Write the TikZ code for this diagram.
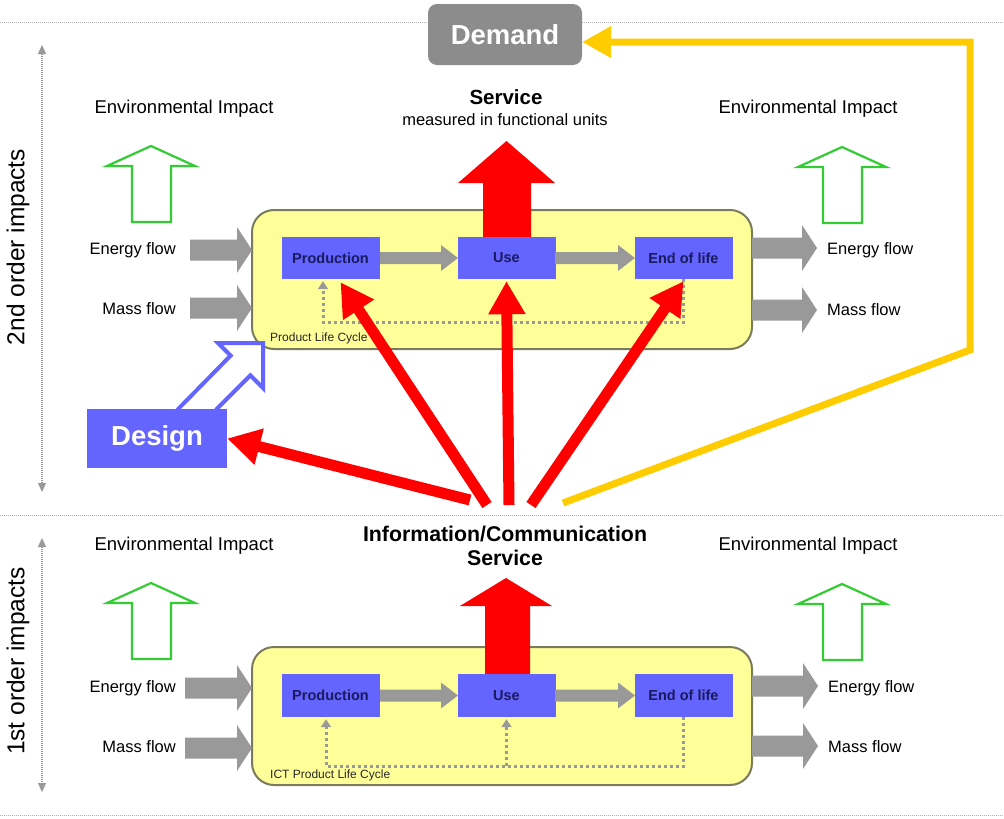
\documentclass[tikz,border=0pt]{standalone}
\usepackage{fontspec}
\setmainfont{Liberation Sans}
\usetikzlibrary{arrows.meta}
\definecolor{boxblue}{HTML}{6464FF}
\definecolor{navy}{HTML}{1A1A5E}
\definecolor{lcyellow}{HTML}{FFFF99}
\definecolor{lcborder}{HTML}{7A7A5C}
\definecolor{flowgray}{HTML}{999999}
\definecolor{impgreen}{HTML}{33CC33}
\definecolor{fbyellow}{HTML}{FFCC00}
\definecolor{demgray}{HTML}{8C8C8C}
\definecolor{sepgray}{HTML}{B0B0B0}
\newcommand\fsz[1]{\fontsize{#1}{#1}\selectfont}
\newcommand\flowarrow[3]{\fill[flowgray] (#1,#3-10.5) -- (#2-15,#3-10.5) -- (#2-15,#3-23) -- (#2,#3) -- (#2-15,#3+23) -- (#2-15,#3+10.5) -- (#1,#3+10.5) -- cycle;}
\newcommand\stageflow[3]{\fill[flowgray] (#1,#3-6) -- (#2-17,#3-6) -- (#2-17,#3-13) -- (#2,#3) -- (#2-17,#3+13) -- (#2-17,#3+6) -- (#1,#3+6) -- cycle;}
\newcommand\impactarrow[2]{\draw[impgreen, line width=2.2pt, fill=white, line join=miter] (#1,#2) -- (#1+44,#2+20) -- (#1+20,#2+20) -- (#1+20,#2+76) -- (#1-19,#2+76) -- (#1-19,#2+20) -- (#1-44,#2+20) -- cycle;}
\begin{document}
\begin{tikzpicture}[x=1pt,y=-1pt,
  sepline/.style={draw=sepgray, line width=1pt, dash pattern=on 1pt off 1pt},
  lcbox/.style={fill=lcyellow, draw=lcborder, line width=2pt, rounded corners=22pt, minimum width=500pt, inner sep=0pt},
  stagebox/.style={fill=boxblue, draw=none, text=navy, font=\fsz{14.5}\bfseries, minimum width=98pt, minimum height=42pt, inner sep=0pt},
  bigbox/.style={text=white, font=\fsz{27.5}\bfseries, inner sep=0pt},
  envlabel/.style={font=\fsz{18.5}, inner sep=0pt},
  flowlabel/.style={font=\fsz{16.5}, inner sep=0pt},
  lclabel/.style={font=\fsz{12}, anchor=west, inner sep=0pt, text=black!85},
  redarrow/.style={draw=red, line width=11pt, -{Triangle[length=33pt,width=35pt]}},
  fb/.style={draw=flowgray, line width=3pt, dash pattern=on 3pt off 3pt},
  fbtip/.style={-{Triangle[length=8pt,width=10pt]}},
  orderaxis/.style={draw=flowgray, line width=1.2pt, dash pattern=on 1pt off 1pt, {Triangle[length=9pt,width=8pt]}-{Triangle[length=9pt,width=8pt]}}
]
\useasboundingbox (0,0) rectangle (1004,819);
\fill[white] (0,0) rectangle (1004,819);

% separators
\draw[sepline] (0,22) -- (1004,22);
\draw[sepline] (0,515) -- (1004,515);
\draw[sepline] (0,815) -- (1004,815);

% order axes
\draw[orderaxis] (42,45) -- (42,492);
\draw[orderaxis] (42,538) -- (42,792);
\node[rotate=90, font=\fsz{24.5}] (ax2) at (18,247) {2nd order impacts};
\node[rotate=90, font=\fsz{24.5}] (ax1) at (18,661) {1st order impacts};

% Demand
\node[bigbox, fill=demgray, rounded corners=9pt, minimum width=154pt, minimum height=61pt] (demand) at (505,34.5) {Demand};

% ===== 2nd order =====
\node[envlabel] (env2l) at (184,109) {Environmental Impact};
\node[envlabel] (env2r) at (808,109) {Environmental Impact};
\impactarrow{151}{146}
\impactarrow{842}{147}
\node[font=\fsz{20.5}\bfseries, inner sep=0pt] (serv) at (506,97) {Service};
\node[font=\fsz{16.5}, inner sep=0pt] (servsub) at (505,120) {measured in functional units};

\node[lcbox, minimum height=139pt] (lc2) at (502,279.5) {};
\node[lclabel] (lc2lab) at (270,338) {Product Life Cycle};

\fill[red] (483,237) -- (483,183) -- (458,183) -- (506.5,141) -- (555,183) -- (531,183) -- (531,237) -- cycle;

\node[stagebox] (prod) at (330.5,258) {Production};
\node[stagebox] (use) at (506.5,258) {Use};
\node[stagebox] (eol) at (683.5,258) {End of life};
\stageflow{380}{458}{258}
\stageflow{555}{635}{258}

\draw[fb, fbtip] (eol.south) -- ++(0,43) -| ([xshift=-7.5pt,yshift=-2pt]prod.south);

\flowarrow{190}{252}{250}
\flowarrow{190}{252}{308}
\flowarrow{752}{817}{248}
\flowarrow{752}{817}{310}
\node[flowlabel, anchor=east] (ein2) at (176,250) {Energy flow};
\node[flowlabel, anchor=east] (min2) at (176,309) {Mass flow};
\node[flowlabel, anchor=west] (eout2) at (827,250) {Energy flow};
\node[flowlabel, anchor=west] (mout2) at (827,310) {Mass flow};

% Design
\draw[boxblue, line width=4pt, fill=white, line join=miter] (177.2,410) -- (230.6,355.6) -- (218,343) -- (263,343) -- (263,388) -- (250.4,375.4) -- (215.8,410);
\node[bigbox, fill=boxblue, minimum width=140pt, minimum height=59pt] (design) at (157,438.5) {Design};

% ===== 1st order =====
\node[envlabel] (env1l) at (184,546) {Environmental Impact};
\node[envlabel] (env1r) at (808,546) {Environmental Impact};
\impactarrow{151}{583}
\impactarrow{842}{584}
\node[font=\fsz{21.3}\bfseries, inner sep=0pt, align=center] (ict) at (505,546) {Information/Communication\\[3pt]Service};

\node[lcbox, minimum height=138pt] (lc1) at (502,716) {};
\node[lclabel] (lc1lab) at (270,775) {ICT Product Life Cycle};

\fill[red] (485,675) -- (485,606) -- (460,606) -- (506,578) -- (552,606) -- (530,606) -- (530,675) -- cycle;

\node[stagebox, minimum height=43pt] (prod1) at (330.5,695.5) {Production};
\node[stagebox, minimum height=43pt] (use1) at (506.5,695.5) {Use};
\node[stagebox, minimum height=43pt] (eol1) at (683.5,695.5) {End of life};
\stageflow{380}{458}{695.5}
\stageflow{555}{635}{695.5}

\coordinate (fbmid) at (506.5,766);
\draw[fb, fbtip] (eol1.south) -- ++(0,49) -| ([xshift=-4.5pt,yshift=-2pt]prod1.south);
\draw[fb, fbtip] (fbmid) -- ([yshift=-2pt]use1.south);

\flowarrow{185}{252}{688}
\flowarrow{185}{252}{748}
\flowarrow{752}{818}{686}
\flowarrow{752}{818}{746}
\node[flowlabel, anchor=east] (ein1) at (176,688) {Energy flow};
\node[flowlabel, anchor=east] (min1) at (176,747) {Mass flow};
\node[flowlabel, anchor=west] (eout1) at (828,688) {Energy flow};
\node[flowlabel, anchor=west] (mout1) at (828,747) {Mass flow};

% ===== ICT effects =====
\coordinate (oD) at (470,500);
\coordinate (oP) at (487,505);
\coordinate (oU) at (509,505);
\coordinate (oE) at (531,505);
\coordinate (oY) at (563,503);
\draw[redarrow] (oD) -- (design.east);
\draw[redarrow] (oP) -- ([xshift=10pt,yshift=-3pt]prod.south);
\draw[redarrow] (oU) -- ([yshift=-2pt]use.south);
\draw[redarrow] (oE) -- ([yshift=-2pt]eol.south);
\draw[fbyellow, line width=7pt, line join=miter, -{Triangle[length=29pt,width=30pt]}] (oY) -- (970,350) -- (970,42) -- ([yshift=-7.5pt]demand.east);
\end{tikzpicture}
\end{document}
